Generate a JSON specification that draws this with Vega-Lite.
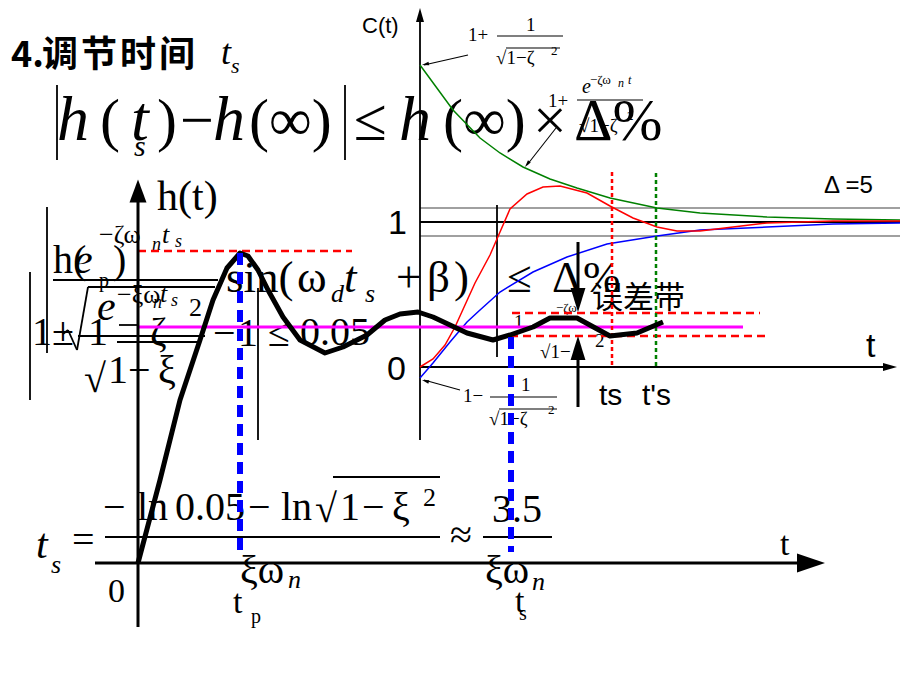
{
"$schema": "https://vega.github.io/schema/vega-lite/v6.json",
"width": 900, "height": 675, "padding": 0, "autosize": {"type": "none"},
"background": "white",
"config": {"view": {"stroke": null}},
"encoding": {
 "x": {"field": "x", "type": "quantitative", "scale": {"domain": [0, 900], "nice": false, "zero": false}, "axis": null},
 "y": {"field": "y", "type": "quantitative", "scale": {"domain": [0, 675], "reverse": true, "nice": false, "zero": false}, "axis": null}
},
"layer": [
 {"data": {"values": [{"x":11,"y":67,"t":"4."},{"x":42,"y":67,"t":"调"},{"x":81,"y":67,"t":"节"},{"x":120,"y":67,"t":"时"},{"x":159,"y":67,"t":"间"}]},
  "mark": {"type": "text", "font": "Noto Sans CJK SC", "fontWeight": "bold", "fontSize": 36, "align": "left", "baseline": "alphabetic"},
  "encoding": {"text": {"field": "t"}}},
 {"data": {"values": [{"x":221,"y":64,"t":"t"}]},
  "mark": {"type": "text", "font": "Liberation Serif", "fontStyle": "italic", "fontSize": 36, "align": "left", "baseline": "alphabetic"},
  "encoding": {"text": {"field": "t"}}},
 {"data": {"values": [{"x":231,"y":73,"t":"s"}]},
  "mark": {"type": "text", "font": "Liberation Serif", "fontStyle": "italic", "fontSize": 22, "align": "left", "baseline": "alphabetic"},
  "encoding": {"text": {"field": "t"}}},
 {"data": {"values": [{"x":100,"y":140,"t":"("},{"x":157,"y":140,"t":")"},{"x":180,"y":140,"t":"−"},{"x":249,"y":140,"t":"(∞)"},{"x":354,"y":140,"t":"≤"},{"x":443,"y":140,"t":"(∞)"},{"x":533,"y":140,"t":"×"},{"x":574,"y":140,"t":"Δ%"}]},
  "mark": {"type": "text", "font": "Liberation Serif", "fontSize": 60, "align": "left", "baseline": "alphabetic"},
  "encoding": {"text": {"field": "t"}}},
 {"data": {"values": [{"x":57,"y":140,"t":"h"},{"x":131,"y":140,"t":"t"},{"x":213,"y":140,"t":"h"},{"x":399,"y":140,"t":"h"}]},
  "mark": {"type": "text", "font": "Liberation Serif", "fontStyle": "italic", "fontSize": 64, "align": "left", "baseline": "alphabetic"},
  "encoding": {"text": {"field": "t"}}},
 {"data": {"values": [{"x":134,"y":156,"t":"s"}]},
  "mark": {"type": "text", "font": "Liberation Serif", "fontStyle": "italic", "fontSize": 30, "align": "left", "baseline": "alphabetic"},
  "encoding": {"text": {"field": "t"}}},
 {"data": {"values": [{"x":362,"y":33,"t":"C(t)"}]},
  "mark": {"type": "text", "font": "Liberation Sans", "fontSize": 22, "align": "left", "baseline": "alphabetic"},
  "encoding": {"text": {"field": "t"}}},
 {"data": {"values": [{"x":824,"y":193,"t":"Δ =5"}]},
  "mark": {"type": "text", "font": "Liberation Sans", "fontSize": 24, "align": "left", "baseline": "alphabetic"},
  "encoding": {"text": {"field": "t"}}},
 {"data": {"values": [{"x":388,"y":234,"t":"1"},{"x":387,"y":380,"t":"0"},{"x":866,"y":357,"t":"t"}]},
  "mark": {"type": "text", "font": "Liberation Sans", "fontSize": 34, "align": "left", "baseline": "alphabetic"},
  "encoding": {"text": {"field": "t"}}},
 {"data": {"values": [{"x":599,"y":405,"t":"ts"},{"x":642,"y":405,"t":"t's"}]},
  "mark": {"type": "text", "font": "Liberation Sans", "fontSize": 30, "align": "left", "baseline": "alphabetic"},
  "encoding": {"text": {"field": "t"}}},
 {"data": {"values": [{"x":592,"y":308,"t":"误差带"}]},
  "mark": {"type": "text", "font": "Noto Sans CJK SC", "fontSize": 31, "align": "left", "baseline": "alphabetic"},
  "encoding": {"text": {"field": "t"}}},
 {"data": {"values": [{"x":157,"y":210,"t":"h(t)"}]},
  "mark": {"type": "text", "font": "Liberation Serif", "fontSize": 42, "align": "left", "baseline": "alphabetic"},
  "encoding": {"text": {"field": "t"}}},
 {"data": {"values": [
   {"x":53,"y":273,"t":"h("},{"x":113,"y":273,"t":")"},
   {"x":32,"y":345,"t":"1"},{"x":52,"y":345,"t":"±"},{"x":88,"y":345,"t":"1"},{"x":150,"y":345,"t":"ζ"},
   {"x":213,"y":346,"t":"−"},{"x":238,"y":346,"t":"1"},{"x":268,"y":346,"t":"≤"},{"x":300,"y":345,"t":"0.05"},
   {"x":108,"y":383,"t":"1"},{"x":128,"y":383,"t":"−"},{"x":158,"y":383,"t":"ξ"},{"x":84,"y":392,"t":"√"},
   {"x":103,"y":520,"t":"−"},{"x":137,"y":520,"t":"ln"},{"x":175,"y":520,"t":"0.05"},{"x":248,"y":520,"t":"−"},{"x":281,"y":520,"t":"ln"},{"x":315,"y":522,"t":"√"},{"x":340,"y":520,"t":"1"},{"x":362,"y":520,"t":"−"},{"x":392,"y":520,"t":"ξ"},
   {"x":72,"y":553,"t":"="},{"x":450,"y":548,"t":"≈"},{"x":492,"y":522,"t":"3.5"},{"x":240,"y":583,"t":"ξω"},{"x":485,"y":583,"t":"ξω"}
  ]},
  "mark": {"type": "text", "font": "Liberation Serif", "fontSize": 40, "align": "left", "baseline": "alphabetic"},
  "encoding": {"text": {"field": "t"}}},
 {"data": {"values": [{"x":226,"y":292,"t":"sin("},{"x":297,"y":292,"t":"ω"},{"x":396,"y":292,"t":"+"},{"x":427,"y":292,"t":"β"},{"x":454,"y":292,"t":")"},{"x":507,"y":292,"t":"≤"},{"x":552,"y":292,"t":"Δ"},{"x":583,"y":292,"t":"%"}]},
  "mark": {"type": "text", "font": "Liberation Serif", "fontSize": 45, "align": "left", "baseline": "alphabetic"},
  "encoding": {"text": {"field": "t"}}},
 {"data": {"values": [{"x":344,"y":292,"t":"t"}]},
  "mark": {"type": "text", "font": "Liberation Serif", "fontStyle": "italic", "fontSize": 45, "align": "left", "baseline": "alphabetic"},
  "encoding": {"text": {"field": "t"}}},
 {"data": {"values": [{"x":74,"y":273,"t":"e"},{"x":97,"y":320,"t":"e"},{"x":36,"y":558,"t":"t"}]},
  "mark": {"type": "text", "font": "Liberation Serif", "fontStyle": "italic", "fontSize": 42, "align": "left", "baseline": "alphabetic"},
  "encoding": {"text": {"field": "t"}}},
 {"data": {"values": [{"x":331,"y":302,"t":"d"},{"x":365,"y":302,"t":"s"},{"x":288,"y":588,"t":"n"},{"x":532,"y":590,"t":"n"},{"x":51,"y":573,"t":"s"},{"x":162,"y":243,"t":"t"},{"x":160,"y":302,"t":"t"}]},
  "mark": {"type": "text", "font": "Liberation Serif", "fontStyle": "italic", "fontSize": 26, "align": "left", "baseline": "alphabetic"},
  "encoding": {"text": {"field": "t"}}},
 {"data": {"values": [{"x":99,"y":243,"t":"−ζω"},{"x":117,"y":303,"t":"−ξω"},{"x":423,"y":506,"t":"2"},{"x":189,"y":316,"t":"2"}]},
  "mark": {"type": "text", "font": "Liberation Serif", "fontSize": 26, "align": "left", "baseline": "alphabetic"},
  "encoding": {"text": {"field": "t"}}},
 {"data": {"values": [{"x":152,"y":250,"t":"n"},{"x":175,"y":247,"t":"s"},{"x":153,"y":308,"t":"n"},{"x":171,"y":306,"t":"s"}]},
  "mark": {"type": "text", "font": "Liberation Serif", "fontStyle": "italic", "fontSize": 18, "align": "left", "baseline": "alphabetic"},
  "encoding": {"text": {"field": "t"}}},
 {"data": {"values": [{"x":99,"y":287,"t":"p"},{"x":251,"y":623,"t":"p"},{"x":519,"y":620,"t":"s"}]},
  "mark": {"type": "text", "font": "Liberation Serif", "fontSize": 20, "align": "left", "baseline": "alphabetic"},
  "encoding": {"text": {"field": "t"}}},
 {"data": {"values": [{"x":233,"y":613,"t":"t"},{"x":515,"y":612,"t":"t"},{"x":780,"y":555,"t":"t"},{"x":108,"y":602,"t":"0"}]},
  "mark": {"type": "text", "font": "Liberation Serif", "fontSize": 34, "align": "left", "baseline": "alphabetic"},
  "encoding": {"text": {"field": "t"}}},
 {"data": {"values": [{"x":468,"y":41,"t":"1+"},{"x":526,"y":31,"t":"1"},{"x":496,"y":64,"t":"√1−ζ"},{"x":548,"y":107,"t":"1+"},{"x":579,"y":132,"t":"√1−ζ"},{"x":463,"y":402,"t":"1−"},{"x":521,"y":391,"t":"1"},{"x":489,"y":425,"t":"√1−ζ"},{"x":514,"y":328,"t":"1"},{"x":540,"y":358,"t":"√1−"},{"x":595,"y":347,"t":"2"}]},
  "mark": {"type": "text", "font": "Liberation Serif", "fontSize": 19, "align": "left", "baseline": "alphabetic"},
  "encoding": {"text": {"field": "t"}}},
 {"data": {"values": [{"x":551,"y":55,"t":"2"},{"x":627,"y":120,"t":"2"},{"x":548,"y":414,"t":"2"},{"x":590,"y":84,"t":"−ζω"},{"x":556,"y":312,"t":"−ζω"}]},
  "mark": {"type": "text", "font": "Liberation Serif", "fontSize": 13, "align": "left", "baseline": "alphabetic"},
  "encoding": {"text": {"field": "t"}}},
 {"data": {"values": [{"x":628,"y":84,"t":"t"},{"x":618,"y":87,"t":"n"}]},
  "mark": {"type": "text", "font": "Liberation Serif", "fontStyle": "italic", "fontSize": 12, "align": "left", "baseline": "alphabetic"},
  "encoding": {"text": {"field": "t"}}},
 {"data": {"values": [{"x":582,"y":93,"t":"e"}]},
  "mark": {"type": "text", "font": "Liberation Serif", "fontStyle": "italic", "fontSize": 20, "align": "left", "baseline": "alphabetic"},
  "encoding": {"text": {"field": "t"}}},
 {"data": {"values": [{"x":420,"y":208,"x2":900,"y2":208},{"x":420,"y":236,"x2":900,"y2":236}]},
  "mark": {"type": "rule", "color": "#808080", "strokeWidth": 1.5},
  "encoding": {"x2": {"field": "x2"}, "y2": {"field": "y2"}}},
 {"data": {"values": [{"x":468,"y":55,"x2":424,"y2":65},{"x":556,"y":128,"x2":527,"y2":165},{"x":460,"y":390,"x2":424,"y2":380},{"x":497,"y":36,"x2":563,"y2":36},{"x":506,"y":48,"x2":560,"y2":48},{"x":577,"y":100,"x2":643,"y2":100},{"x":490,"y":397,"x2":557,"y2":397},{"x":499,"y":409,"x2":557,"y2":409}]},
  "mark": {"type": "rule", "color": "black", "strokeWidth": 1.1},
  "encoding": {"x2": {"field": "x2"}, "y2": {"field": "y2"}}},
 {"data": {"values": [
   {"x":420,"y":440,"x2":420,"y2":20},{"x":420,"y":367,"x2":884,"y2":367},{"x":420,"y":222,"x2":900,"y2":222},{"x":497,"y":205,"x2":497,"y2":357},
   {"x":57,"y":85,"x2":57,"y2":160},{"x":345,"y":85,"x2":345,"y2":160},
   {"x":47,"y":207,"x2":47,"y2":353},{"x":30,"y":272,"x2":30,"y2":400},{"x":258,"y":288,"x2":258,"y2":440},
   {"x":53,"y":280,"x2":218,"y2":280},
   {"x":63,"y":334,"x2":68,"y2":330},{"x":68,"y":330,"x2":77,"y2":350},{"x":77,"y":350,"x2":88,"y2":287},{"x":88,"y":287,"x2":215,"y2":287},
   {"x":78,"y":336,"x2":205,"y2":336},{"x":117,"y":342,"x2":200,"y2":342},{"x":119,"y":325,"x2":137,"y2":325},
   {"x":105,"y":537,"x2":440,"y2":537},{"x":483,"y":537,"x2":552,"y2":537},{"x":333,"y":477,"x2":440,"y2":477}
  ]},
  "mark": {"type": "rule", "color": "black", "strokeWidth": 1.8},
  "encoding": {"x2": {"field": "x2"}, "y2": {"field": "y2"}}},
 {"data": {"values": [{"x":420,"y":65},{"x":453,"y":110},{"x":480,"y":138},{"x":500,"y":153},{"x":523,"y":167},{"x":550,"y":179},{"x":577,"y":188},{"x":610,"y":198},{"x":657,"y":208},{"x":700,"y":213},{"x":767,"y":217},{"x":833,"y":219},{"x":900,"y":220}]},
  "mark": {"type": "line", "color": "#008000", "strokeWidth": 1.5},
  "encoding": {}},
 {"data": {"values": [{"x":420,"y":378},{"x":433,"y":363},{"x":450,"y":342},{"x":467,"y":322},{"x":480,"y":310},{"x":500,"y":292},{"x":533,"y":272},{"x":567,"y":257},{"x":607,"y":244},{"x":657,"y":236},{"x":700,"y":230},{"x":767,"y":227},{"x":833,"y":224},{"x":900,"y":223}]},
  "mark": {"type": "line", "color": "#0000ff", "strokeWidth": 1.5},
  "encoding": {}},
 {"data": {"values": [{"x":420,"y":367},{"x":433,"y":359},{"x":445,"y":345},{"x":455,"y":327},{"x":465,"y":305},{"x":475,"y":283},{"x":490,"y":255},{"x":500,"y":232},{"x":510,"y":209},{"x":527,"y":194},{"x":543,"y":187},{"x":560,"y":186},{"x":587,"y":193},{"x":610,"y":206},{"x":633,"y":218},{"x":657,"y":227},{"x":677,"y":231},{"x":700,"y":231},{"x":733,"y":227},{"x":767,"y":223},{"x":833,"y":221},{"x":900,"y":221}]},
  "mark": {"type": "line", "color": "#ff0000", "strokeWidth": 1.5},
  "encoding": {}},
 {"data": {"values": [{"x":138,"y":327,"x2":743,"y2":327}]},
  "mark": {"type": "rule", "color": "#ff00ff", "strokeWidth": 3},
  "encoding": {"x2": {"field": "x2"}, "y2": {"field": "y2"}}},
 {"data": {"values": [{"x":138,"y":251,"x2":352,"y2":251},{"x":512,"y":313,"x2":760,"y2":313},{"x":510,"y":336,"x2":765,"y2":336}]},
  "mark": {"type": "rule", "color": "#ff0000", "strokeWidth": 2.5, "strokeDash": [8, 5]},
  "encoding": {"x2": {"field": "x2"}, "y2": {"field": "y2"}}},
 {"data": {"values": [{"x":612,"y":172,"x2":612,"y2":367}]},
  "mark": {"type": "rule", "color": "#ff0000", "strokeWidth": 2.5, "strokeDash": [4, 3]},
  "encoding": {"x2": {"field": "x2"}, "y2": {"field": "y2"}}},
 {"data": {"values": [{"x":656,"y":173,"x2":656,"y2":367}]},
  "mark": {"type": "rule", "color": "#008000", "strokeWidth": 2.5, "strokeDash": [4, 3]},
  "encoding": {"x2": {"field": "x2"}, "y2": {"field": "y2"}}},
 {"data": {"values": [{"x":138,"y":563},{"x":160,"y":480},{"x":180,"y":400},{"x":200,"y":340},{"x":213,"y":300},{"x":227,"y":268},{"x":240,"y":253},{"x":248,"y":256},{"x":258,"y":270},{"x":268,"y":290},{"x":283,"y":317},{"x":300,"y":340},{"x":325,"y":353},{"x":343,"y":347},{"x":367,"y":335},{"x":385,"y":320},{"x":400,"y":314},{"x":418,"y":312},{"x":433,"y":317},{"x":467,"y":333},{"x":493,"y":340},{"x":510,"y":335},{"x":533,"y":327},{"x":550,"y":318},{"x":577,"y":318},{"x":610,"y":336},{"x":637,"y":333},{"x":663,"y":322}]},
  "mark": {"type": "line", "color": "black", "strokeWidth": 5, "strokeJoin": "round"},
  "encoding": {}},
 {"data": {"values": [{"x":240,"y":253,"x2":240,"y2":557},{"x":511,"y":337,"x2":511,"y2":552}]},
  "mark": {"type": "rule", "color": "#0000ff", "strokeWidth": 6, "strokeDash": [12, 7]},
  "encoding": {"x2": {"field": "x2"}, "y2": {"field": "y2"}}},
 {"data": {"values": [{"x":138,"y":627,"x2":138,"y2":200},{"x":95,"y":563,"x2":800,"y2":563},{"x":578,"y":242,"x2":578,"y2":292},{"x":578,"y":407,"x2":578,"y2":356}]},
  "mark": {"type": "rule", "color": "black", "strokeWidth": 3},
  "encoding": {"x2": {"field": "x2"}, "y2": {"field": "y2"}}},
 {"data": {"values": [{"x":138,"y":191}]},
  "mark": {"type": "point", "shape": "M0,-1L-0.74,1L0.74,1Z", "size": 529, "filled": true, "color": "black", "opacity": 1},
  "encoding": {}},
 {"data": {"values": [{"x":811,"y":563}]},
  "mark": {"type": "point", "shape": "M1,0L-1,-0.68L-1,0.68Z", "size": 784, "filled": true, "color": "black", "opacity": 1},
  "encoding": {}},
 {"data": {"values": [{"x":420,"y":15}]},
  "mark": {"type": "point", "shape": "M0,-1L-0.57,1L0.57,1Z", "size": 196, "filled": true, "color": "black", "opacity": 1},
  "encoding": {}},
 {"data": {"values": [{"x":890,"y":367}]},
  "mark": {"type": "point", "shape": "M1,0L-1,-0.57L-1,0.57Z", "size": 196, "filled": true, "color": "black", "opacity": 1},
  "encoding": {}},
 {"data": {"values": [{"x":578,"y":300}]},
  "mark": {"type": "point", "shape": "M0,1L-0.62,-1L0.62,-1Z", "size": 576, "filled": true, "color": "black", "opacity": 1},
  "encoding": {}},
 {"data": {"values": [{"x":578,"y":348}]},
  "mark": {"type": "point", "shape": "M0,-1L-0.62,1L0.62,1Z", "size": 576, "filled": true, "color": "black", "opacity": 1},
  "encoding": {}},
 {"data": {"values": [{"x":425.4,"y":64.2}]},
  "mark": {"type": "point", "shape": "M1,0L-1,-0.5L-1,0.5Z", "size": 50, "angle": 167, "filled": true, "color": "black", "opacity": 1},
  "encoding": {}},
 {"data": {"values": [{"x":527.2,"y":164.2}]},
  "mark": {"type": "point", "shape": "M1,0L-1,-0.5L-1,0.5Z", "size": 50, "angle": 128, "filled": true, "color": "black", "opacity": 1},
  "encoding": {}},
 {"data": {"values": [{"x":425.4,"y":381}]},
  "mark": {"type": "point", "shape": "M1,0L-1,-0.5L-1,0.5Z", "size": 50, "angle": 196, "filled": true, "color": "black", "opacity": 1},
  "encoding": {}}
]
}
